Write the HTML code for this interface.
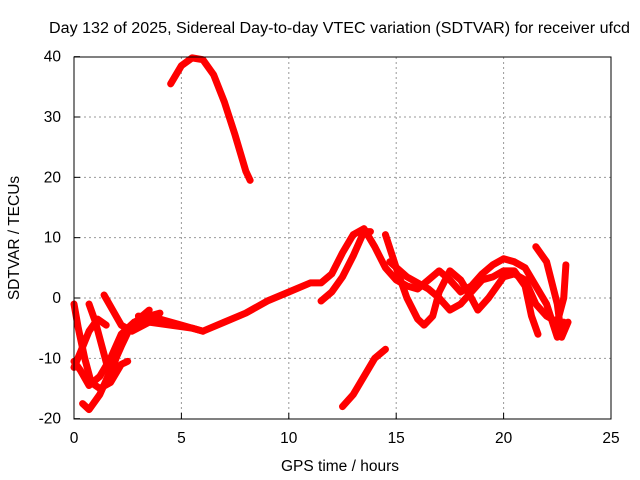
<!DOCTYPE html>
<html><head><meta charset="utf-8"><style>
body{margin:0;background:#fff;}
svg{display:block;font-family:"Liberation Sans",sans-serif;}
</style></head><body>
<svg id="chart" width="640" height="480">
<rect width="640" height="480" fill="#fff"/>
<text x="49" y="33" font-size="15.5" textLength="581" lengthAdjust="spacingAndGlyphs">Day 132 of 2025, Sidereal Day-to-day VTEC variation (SDTVAR) for receiver ufcd</text>
<text x="340" y="471" font-size="15.5" text-anchor="middle">GPS time / hours</text>
<text transform="translate(19,238) rotate(-90)" font-size="15.5" text-anchor="middle">SDTVAR / TECUs</text>
<g id="grid"></g><g id="series"></g>
<rect x="74" y="57" width="537" height="362" fill="none" stroke="#000" stroke-width="1"/>
</svg>
<script>
const xTicks=[0,5,10,15,20,25];
const yTicks=[-20,-10,0,10,20,30,40];
const traceTop=[[4.5,35.5],[5,38.5],[5.5,39.8],[6,39.5],[6.5,37],[7,32.5],[7.5,27],[8,21],[8.2,19.5]];
const traceMain=[[3,-3],[4,-3.5],[5,-4.5],[6,-5.5],[7,-4],[8,-2.5],[9,-0.5],[10,1],[11,2.5],[11.5,2.5],[12,4],[12.5,7.5],[13,10.5],[13.5,11.5],[14,8.5],[14.5,5],[15,3],[15.5,2],[16,1.5],[16.5,3],[17,4.5],[17.5,3],[18,1],[18.5,2],[19,4],[19.5,5.5],[20,6.5],[20.5,6],[21,5],[21.5,2],[22,-1],[22.5,-6.5],[22.8,-4]];
const traceLow=[[12.5,-18],[13,-16],[13.5,-13],[14,-10],[14.5,-8.5]];
const traceRise=[[11.5,-0.5],[12,1],[12.5,3.5],[13,7],[13.5,11],[13.8,11]];
const traceRight1=[[14.5,10.5],[15,5],[15.5,0],[16,-3.5],[16.3,-4.5],[16.7,-3],[17,1],[17.5,4.5],[18,3],[18.5,0],[18.8,-2],[19.3,0],[20,3.5],[20.5,4],[21,3],[21.5,-1],[22,-3],[22.5,-4],[22.8,0],[22.9,5.5]];
const traceRight2=[[21.5,8.5],[22,6],[22.5,-1],[22.7,-6.5],[23,-4]];
const traceRight3=[[14.7,6],[15.5,3.5],[16.5,1.5],[17,0],[17.5,-2],[18,-1],[18.5,1],[19,3],[19.5,3.5],[20,4.5],[20.5,4.5],[21,2],[21.3,-3],[21.6,-6]];
const traceL1=[[0,-1],[0.2,-5],[0.5,-10],[0.8,-14],[1.2,-15],[1.7,-14],[2.2,-11],[2.5,-10.5]];
const traceL2=[[0.4,-17.5],[0.7,-18.5],[1.2,-16],[1.7,-12],[2.2,-8],[2.6,-5],[3,-3.5],[3.5,-2]];
const traceL3=[[0,-10.5],[0.3,-12],[0.7,-14.5],[1.2,-13],[1.7,-10],[2.2,-6],[2.8,-4],[3.5,-3],[4,-2.5]];
const traceL4=[[0.7,-1],[1,-4],[1.3,-8],[1.6,-12],[1.8,-12],[2.1,-8],[2.6,-5],[3.2,-3]];
const traceL5=[[1.4,0.5],[1.8,-2],[2.2,-4.5],[2.7,-5.5],[3.5,-4],[4.5,-4.5],[5.5,-5],[6,-5.5]];
const traceL6=[[0,-11.5],[0.3,-9],[0.7,-5.5],[1.1,-3.5],[1.5,-4.5]];
const traces=[traceTop,traceMain,traceLow,traceRise,traceRight1,traceRight2,traceRight3,traceL1,traceL2,traceL3,traceL4,traceL5,traceL6];
const X=h=>74+h*537/25;
const Y=v=>298-v*362/60;
const NS="http://www.w3.org/2000/svg";
const grid=document.getElementById('grid');
xTicks.forEach(t=>{
  const x=X(t);
  if(t>0&&t<25){const l=document.createElementNS(NS,'line');
  l.setAttribute('x1',x);l.setAttribute('x2',x);l.setAttribute('y1',57);l.setAttribute('y2',419);
  l.setAttribute('stroke','#999');l.setAttribute('stroke-dasharray','2,3');
  
  
  grid.appendChild(l);}
  const tk=document.createElementNS(NS,'line');
  tk.setAttribute('x1',x);tk.setAttribute('x2',x);tk.setAttribute('y1',419);tk.setAttribute('y2',413);tk.setAttribute('stroke','#000');
  
  
  grid.appendChild(tk);
  const tx=document.createElementNS(NS,'text');
  tx.setAttribute('x',x);tx.setAttribute('y',443);tx.setAttribute('font-size','15.5');tx.setAttribute('text-anchor','middle');tx.textContent=t;
  
  
  grid.appendChild(tx);
});
yTicks.forEach(t=>{
  const y=Y(t);
  if(t>-20&&t<40){const l=document.createElementNS(NS,'line');
  l.setAttribute('x1',74);l.setAttribute('x2',611);l.setAttribute('y1',y);l.setAttribute('y2',y);
  l.setAttribute('stroke','#999');l.setAttribute('stroke-dasharray','2,3');
  
  
  grid.appendChild(l);}
  const tk=document.createElementNS(NS,'line');
  tk.setAttribute('x1',74);tk.setAttribute('x2',80);tk.setAttribute('y1',y);tk.setAttribute('y2',y);tk.setAttribute('stroke','#000');
  
  
  grid.appendChild(tk);
  const tx=document.createElementNS(NS,'text');
  tx.setAttribute('x',61);tx.setAttribute('y',y+5);tx.setAttribute('font-size','15.5');tx.setAttribute('text-anchor','end');tx.textContent=t;
  
  
  grid.appendChild(tx);
});
const sg=document.getElementById('series');
traces.forEach((tr,i)=>{
  const p=document.createElementNS(NS,'polyline');
  p.setAttribute('points',tr.map(d=>X(d[0])+','+Y(d[1])).join(' '));
  p.setAttribute('fill','none');p.setAttribute('stroke','#f00');p.setAttribute('stroke-width','7');
  p.setAttribute('stroke-linejoin','round');p.setAttribute('stroke-linecap','round');
  
  
  sg.appendChild(p);
});
</script>
</body></html>
